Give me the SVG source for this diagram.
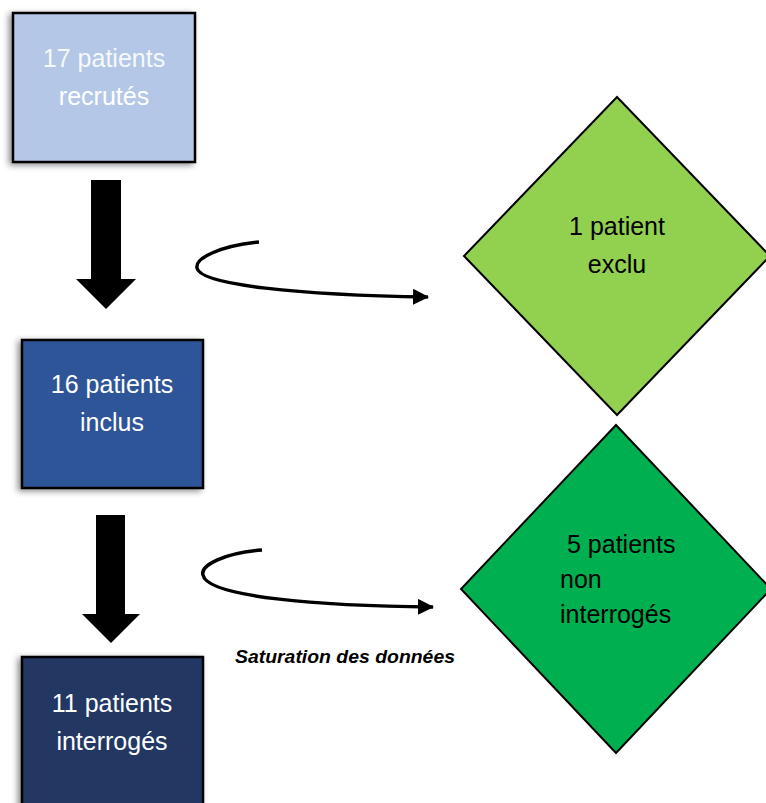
<svg xmlns="http://www.w3.org/2000/svg" width="766" height="803" viewBox="0 0 766 803">
<defs>
<filter id="sh" x="-20%" y="-20%" width="140%" height="140%">
<feDropShadow dx="-3" dy="2" stdDeviation="3" flood-color="#000" flood-opacity="0.45"/>
</filter>
<marker id="ah" markerWidth="16" markerHeight="16" refX="15" refY="8" orient="auto" markerUnits="userSpaceOnUse">
<path d="M0,0 L16,8 L0,16 Z" fill="#000"/>
</marker>
</defs>
<style>
.box{stroke:#000;stroke-width:2.5;filter:url(#sh)}
.dia{stroke:#000;stroke-width:2}
.bt{font-family:"Liberation Sans",Arial,sans-serif;font-size:25px;fill:#fff;text-anchor:middle}
.dt{font-family:"Liberation Sans",Arial,sans-serif;font-size:25px;fill:#000}
.curve{fill:none;stroke:#000;stroke-width:3.5;marker-end:url(#ah)}
.big{fill:#000}
.lbl{font-family:"Liberation Sans",Arial,sans-serif;font-size:19px;font-weight:bold;font-style:italic;fill:#000}
</style>
<rect width="766" height="803" fill="#fff"/>
<g id="n1">
<rect class="box" x="13" y="13" width="182" height="149" fill="#B4C7E7"/>
<text class="bt" x="104" y="67" fill-opacity="0.9">17 patients</text>
<text class="bt" x="104" y="105">recrutés</text>
</g>
<g id="n2">
<rect class="box" x="22" y="340" width="181" height="148" fill="#2F5597"/>
<text class="bt" x="112" y="393">16 patients</text>
<text class="bt" x="112" y="431">inclus</text>
</g>
<g id="n3">
<rect class="box" x="22" y="657" width="181" height="160" fill="#203864"/>
<text class="bt" x="112" y="712">11 patients</text>
<text class="bt" x="112" y="750">interrogés</text>
</g>
<g id="n4">
<polygon class="dia" points="617,97 770,256 617,415 464,256" fill="#92D050"/>
<text class="dt" x="617" y="235" text-anchor="middle">1 patient</text>
<text class="dt" x="617" y="273" text-anchor="middle">exclu</text>
</g>
<g id="n5">
<polygon class="dia" points="616,425 771,589 616,753 461,589" fill="#00B050"/>
<text class="dt" x="567" y="553">5 patients</text>
<text class="dt" x="560" y="588">non</text>
<text class="dt" x="560" y="623">interrogés</text>
</g>
<g id="connectors">
<polygon class="big" points="91,180 121,180 121,279 136,279 106,309 76,279 91,279"/>
<polygon class="big" points="96,515 125,515 125,614 140,614 111,643 82,614 96,614"/>
<path class="curve" d="M259,242 C220,246 195,258 197,268 C200,285 300,295 428,297"/>
<path class="curve" d="M262,550 C225,553 200,565 203,575 C207,597 320,606 433,607"/>
<text class="lbl" x="235" y="663" textLength="220" lengthAdjust="spacingAndGlyphs">Saturation des données</text>
</g>
</svg>
